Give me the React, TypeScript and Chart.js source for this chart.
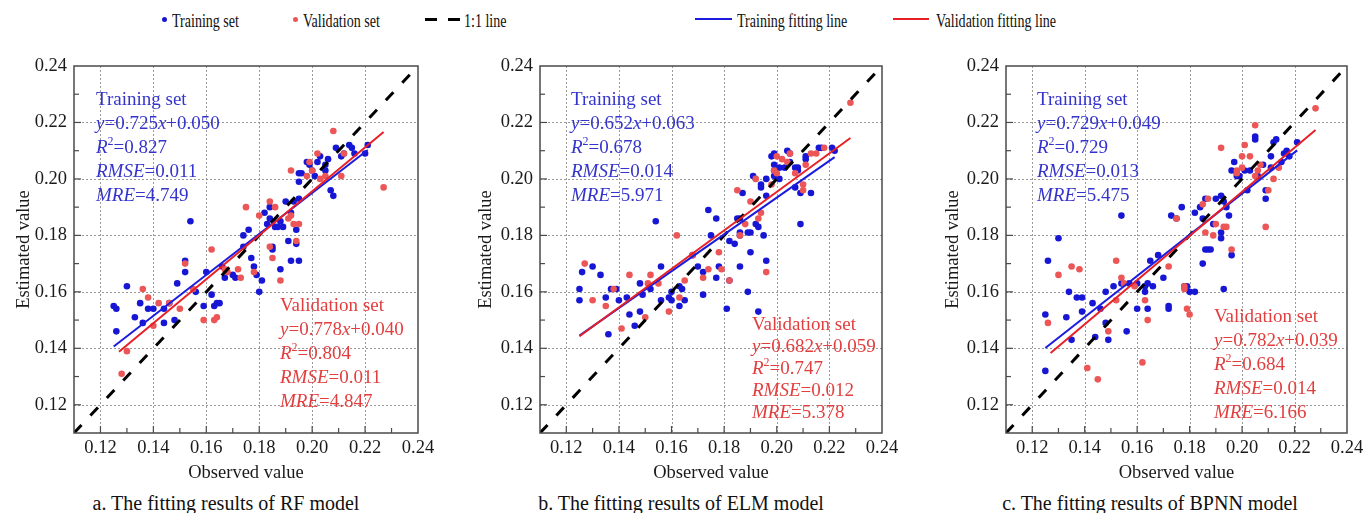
import React, { useEffect, useRef } from "react";
import { Chart, registerables } from "chart.js";

Chart.register(...registerables);

const FONT = "'Liberation Serif', 'Times New Roman', Times, serif";

// ---- axes ----
const axisMin = 0.11;
const axisMax = 0.24;
const majorTicks = [0.12, 0.14, 0.16, 0.18, 0.2, 0.22, 0.24];
const minorTicks = [0.13, 0.15, 0.17, 0.19, 0.21, 0.23];
const identityLine = [0.11, 0.24];

// ---- RF model ----
const rfTrainObs = [0.126, 0.125, 0.126, 0.130, 0.133, 0.135, 0.136, 0.138, 0.140, 0.144, 0.144, 0.146, 0.148, 0.149, 0.152, 0.152, 0.154, 0.156, 0.160, 0.159, 0.162, 0.163, 0.164, 0.165, 0.166, 0.167, 0.170, 0.171, 0.174, 0.174, 0.176, 0.177, 0.178, 0.179, 0.180, 0.181, 0.182, 0.183, 0.184, 0.184, 0.185, 0.185, 0.186, 0.187, 0.188, 0.188, 0.189, 0.190, 0.191, 0.192, 0.192, 0.193, 0.194, 0.194, 0.195, 0.195, 0.195, 0.195, 0.196, 0.198, 0.199, 0.200, 0.201, 0.202, 0.203, 0.205, 0.205, 0.206, 0.207, 0.208, 0.209, 0.211, 0.212, 0.214, 0.215, 0.216, 0.220, 0.221];
const rfTrainEst = [0.146, 0.155, 0.154, 0.162, 0.151, 0.156, 0.149, 0.154, 0.154, 0.149, 0.154, 0.156, 0.150, 0.163, 0.171, 0.167, 0.185, 0.160, 0.167, 0.155, 0.159, 0.155, 0.156, 0.156, 0.169, 0.165, 0.166, 0.165, 0.180, 0.176, 0.182, 0.172, 0.169, 0.166, 0.160, 0.164, 0.188, 0.184, 0.186, 0.190, 0.176, 0.175, 0.183, 0.183, 0.168, 0.185, 0.183, 0.192, 0.178, 0.188, 0.171, 0.192, 0.182, 0.177, 0.171, 0.193, 0.199, 0.202, 0.202, 0.206, 0.205, 0.203, 0.201, 0.206, 0.208, 0.205, 0.203, 0.207, 0.196, 0.194, 0.211, 0.208, 0.209, 0.212, 0.211, 0.209, 0.209, 0.212];
const rfValObs = [0.128, 0.130, 0.136, 0.138, 0.140, 0.142, 0.146, 0.150, 0.152, 0.155, 0.159, 0.162, 0.163, 0.164, 0.167, 0.168, 0.172, 0.173, 0.175, 0.178, 0.180, 0.184, 0.184, 0.185, 0.186, 0.188, 0.191, 0.192, 0.192, 0.193, 0.194, 0.195, 0.198, 0.199, 0.200, 0.202, 0.203, 0.205, 0.208, 0.211, 0.212, 0.227];
const rfValEst = [0.131, 0.139, 0.161, 0.158, 0.148, 0.156, 0.156, 0.154, 0.170, 0.161, 0.150, 0.175, 0.150, 0.151, 0.168, 0.167, 0.168, 0.165, 0.190, 0.167, 0.187, 0.192, 0.176, 0.172, 0.190, 0.164, 0.186, 0.203, 0.187, 0.184, 0.178, 0.184, 0.201, 0.206, 0.203, 0.209, 0.200, 0.201, 0.217, 0.201, 0.209, 0.197];
const rfTrainFit = [0.725, 0.05];
const rfValFit = [0.778, 0.04];
const rfTrainRange = [0.125, 0.221];
const rfValRange = [0.127, 0.227];
const rfTrainMetrics = [0.827, 0.011, 4.749];
const rfValMetrics = [0.804, 0.011, 4.847];

// ---- ELM model ----
const elmTrainObs = [0.125, 0.125, 0.126, 0.130, 0.133, 0.135, 0.136, 0.137, 0.139, 0.140, 0.143, 0.144, 0.146, 0.148, 0.148, 0.149, 0.152, 0.154, 0.156, 0.156, 0.159, 0.160, 0.160, 0.163, 0.164, 0.163, 0.165, 0.168, 0.170, 0.172, 0.172, 0.174, 0.175, 0.177, 0.177, 0.178, 0.181, 0.182, 0.182, 0.184, 0.185, 0.186, 0.186, 0.186, 0.186, 0.187, 0.189, 0.189, 0.190, 0.190, 0.191, 0.192, 0.193, 0.193, 0.194, 0.194, 0.195, 0.196, 0.196, 0.196, 0.198, 0.199, 0.199, 0.199, 0.199, 0.201, 0.201, 0.203, 0.204, 0.205, 0.205, 0.207, 0.207, 0.208, 0.208, 0.209, 0.209, 0.211, 0.211, 0.213, 0.216, 0.217, 0.221, 0.222];
const elmTrainEst = [0.161, 0.157, 0.167, 0.169, 0.166, 0.158, 0.145, 0.161, 0.161, 0.157, 0.158, 0.152, 0.148, 0.163, 0.153, 0.159, 0.161, 0.185, 0.169, 0.157, 0.158, 0.157, 0.160, 0.162, 0.161, 0.155, 0.157, 0.173, 0.169, 0.167, 0.159, 0.189, 0.180, 0.186, 0.165, 0.169, 0.154, 0.178, 0.164, 0.177, 0.186, 0.186, 0.169, 0.181, 0.180, 0.195, 0.160, 0.181, 0.181, 0.174, 0.201, 0.184, 0.183, 0.153, 0.198, 0.197, 0.180, 0.200, 0.171, 0.194, 0.208, 0.209, 0.205, 0.203, 0.201, 0.204, 0.200, 0.204, 0.210, 0.209, 0.206, 0.197, 0.204, 0.203, 0.204, 0.195, 0.184, 0.207, 0.208, 0.195, 0.211, 0.211, 0.211, 0.210];
const elmValObs = [0.127, 0.130, 0.135, 0.138, 0.141, 0.144, 0.150, 0.151, 0.152, 0.155, 0.159, 0.162, 0.163, 0.165, 0.168, 0.172, 0.174, 0.178, 0.179, 0.182, 0.185, 0.186, 0.188, 0.190, 0.192, 0.193, 0.194, 0.196, 0.198, 0.199, 0.200, 0.200, 0.202, 0.204, 0.205, 0.207, 0.210, 0.210, 0.211, 0.213, 0.215, 0.218, 0.228];
const elmValEst = [0.170, 0.157, 0.155, 0.161, 0.147, 0.166, 0.151, 0.163, 0.166, 0.163, 0.153, 0.180, 0.158, 0.164, 0.173, 0.165, 0.168, 0.174, 0.168, 0.164, 0.196, 0.180, 0.184, 0.192, 0.200, 0.186, 0.188, 0.167, 0.198, 0.203, 0.202, 0.208, 0.207, 0.206, 0.209, 0.202, 0.196, 0.198, 0.205, 0.209, 0.209, 0.211, 0.227];
const elmTrainFit = [0.652, 0.063];
const elmValFit = [0.682, 0.059];
const elmTrainRange = [0.125, 0.222];
const elmValRange = [0.125, 0.228];
const elmTrainMetrics = [0.678, 0.014, 5.971];
const elmValMetrics = [0.747, 0.012, 5.378];

// ---- BPNN model ----
const bpTrainObs = [0.125, 0.125, 0.126, 0.130, 0.133, 0.134, 0.135, 0.137, 0.139, 0.139, 0.143, 0.144, 0.146, 0.148, 0.148, 0.149, 0.151, 0.154, 0.154, 0.156, 0.157, 0.160, 0.160, 0.163, 0.164, 0.163, 0.164, 0.166, 0.168, 0.165, 0.170, 0.172, 0.172, 0.173, 0.175, 0.177, 0.178, 0.179, 0.180, 0.182, 0.182, 0.184, 0.185, 0.185, 0.186, 0.186, 0.187, 0.188, 0.189, 0.190, 0.192, 0.192, 0.192, 0.193, 0.193, 0.194, 0.195, 0.196, 0.196, 0.197, 0.198, 0.198, 0.199, 0.201, 0.202, 0.203, 0.205, 0.205, 0.206, 0.208, 0.209, 0.209, 0.211, 0.211, 0.212, 0.213, 0.215, 0.216, 0.217, 0.218, 0.221];
const bpTrainEst = [0.152, 0.132, 0.171, 0.179, 0.151, 0.160, 0.143, 0.158, 0.158, 0.153, 0.156, 0.144, 0.154, 0.149, 0.160, 0.143, 0.162, 0.187, 0.163, 0.146, 0.163, 0.154, 0.163, 0.160, 0.154, 0.162, 0.163, 0.162, 0.173, 0.171, 0.165, 0.155, 0.154, 0.187, 0.186, 0.190, 0.162, 0.162, 0.160, 0.160, 0.188, 0.190, 0.170, 0.186, 0.175, 0.193, 0.175, 0.175, 0.184, 0.193, 0.181, 0.179, 0.194, 0.161, 0.192, 0.190, 0.187, 0.173, 0.203, 0.206, 0.202, 0.201, 0.201, 0.203, 0.196, 0.203, 0.214, 0.215, 0.201, 0.205, 0.193, 0.196, 0.208, 0.204, 0.213, 0.214, 0.206, 0.209, 0.210, 0.208, 0.213];
const bpValObs = [0.126, 0.130, 0.135, 0.138, 0.141, 0.145, 0.149, 0.152, 0.152, 0.154, 0.155, 0.159, 0.162, 0.163, 0.164, 0.172, 0.175, 0.178, 0.178, 0.179, 0.180, 0.185, 0.186, 0.187, 0.189, 0.190, 0.192, 0.193, 0.194, 0.196, 0.198, 0.198, 0.200, 0.200, 0.201, 0.203, 0.205, 0.205, 0.206, 0.207, 0.209, 0.210, 0.212, 0.214, 0.228];
const bpValEst = [0.149, 0.166, 0.169, 0.168, 0.133, 0.129, 0.146, 0.171, 0.157, 0.165, 0.163, 0.162, 0.135, 0.157, 0.150, 0.169, 0.186, 0.161, 0.162, 0.154, 0.152, 0.191, 0.181, 0.193, 0.180, 0.184, 0.211, 0.183, 0.183, 0.175, 0.203, 0.202, 0.204, 0.208, 0.212, 0.208, 0.219, 0.201, 0.203, 0.205, 0.183, 0.196, 0.200, 0.204, 0.225];
const bpTrainFit = [0.729, 0.049];
const bpValFit = [0.782, 0.039];
const bpTrainRange = [0.125, 0.221];
const bpValRange = [0.127, 0.228];
const bpTrainMetrics = [0.729, 0.013, 5.475];
const bpValMetrics = [0.684, 0.014, 6.166];

// ---- colours ----
const BLUE_PT = "rgb(22,22,212)";
const RED_PT = "rgb(236,86,86)";
const BLUE_LINE = "rgb(28,28,222)";
const RED_LINE = "rgb(232,32,38)";
const BLUE_TXT = "rgb(52,52,205)";
const RED_TXT = "rgb(226,62,62)";
const AXIS_TXT = "#1a1a1a";

type TextPos = { dx: number; dy: number; gap: number };
type PanelCfg = {
  trainObs: number[]; trainEst: number[]; valObs: number[]; valEst: number[];
  trainFit: number[]; valFit: number[]; trainRange: number[]; valRange: number[];
  trainMetrics: number[]; valMetrics: number[];
  plotLeft: number; plotWidth: number; yTitlePad: number;
  trainPos: TextPos; valPos: TextPos;
};

type Run = { t: string; it?: boolean; sup?: boolean };

function blockLines(title: string, fit: number[], m: number[]): Run[][] {
  return [
    [{ t: title }],
    [{ t: "y", it: true }, { t: "=" + fit[0].toFixed(3) }, { t: "x", it: true }, { t: "+" + fit[1].toFixed(3) }],
    [{ t: "R", it: true }, { t: "2", sup: true }, { t: "=" + m[0].toFixed(3) }],
    [{ t: "RMSE", it: true }, { t: "=" + m[1].toFixed(3) }],
    [{ t: "MRE", it: true }, { t: "=" + m[2].toFixed(3) }],
  ];
}

function drawBlock(ctx: CanvasRenderingContext2D, x0: number, y0: number, gap: number, lines: Run[][], color: string) {
  ctx.fillStyle = color;
  ctx.textBaseline = "middle";
  ctx.textAlign = "left";
  lines.forEach((runs, li) => {
    let cx = x0;
    const cy = y0 + li * gap;
    runs.forEach((r) => {
      const size = r.sup ? 12 : 19;
      ctx.font = `${r.it ? "italic " : ""}${size}px ${FONT}`;
      ctx.fillText(r.t, cx, r.sup ? cy - 6 : cy);
      cx += ctx.measureText(r.t).width;
    });
  });
}

const framePlugin = {
  id: "frame",
  beforeDatasetsDraw(chart: any) {
    const { ctx, chartArea: a, scales } = chart;
    const xs = scales.x, ys = scales.y;
    ctx.save();
    ctx.strokeStyle = "rgba(120,120,120,0.75)";
    ctx.lineWidth = 1;
    ctx.setLineDash([2, 2]);
    majorTicks.filter((v) => v < axisMax).forEach((v) => {
      const px = Math.round(xs.getPixelForValue(v)) + 0.5;
      ctx.beginPath(); ctx.moveTo(px, a.top); ctx.lineTo(px, a.bottom); ctx.stroke();
      const py = Math.round(ys.getPixelForValue(v)) + 0.5;
      ctx.beginPath(); ctx.moveTo(a.left, py); ctx.lineTo(a.right, py); ctx.stroke();
    });
    ctx.restore();
  },
  afterDatasetsDraw(chart: any) {
    const { ctx, chartArea: a, scales } = chart;
    const xs = scales.x, ys = scales.y;
    ctx.save();
    ctx.strokeStyle = "#4a4a4a";
    ctx.lineWidth = 1.5;
    ctx.setLineDash([]);
    ctx.strokeRect(a.left, a.top, a.right - a.left, a.bottom - a.top);
    const tick = (v: number, len: number) => {
      const px = xs.getPixelForValue(v);
      ctx.beginPath(); ctx.moveTo(px, a.bottom); ctx.lineTo(px, a.bottom - len); ctx.stroke();
      const py = ys.getPixelForValue(v);
      ctx.beginPath(); ctx.moveTo(a.left, py); ctx.lineTo(a.left + len, py); ctx.stroke();
    };
    ctx.lineWidth = 1.2;
    minorTicks.forEach((v) => tick(v, 5));
    majorTicks.filter((v) => v < axisMax).forEach((v) => tick(v, 7));
    ctx.restore();
  },
};

const annotPlugin = {
  id: "annot",
  afterDatasetsDraw(chart: any, _args: any, opts: any) {
    const { ctx, chartArea: a } = chart;
    ctx.save();
    const { trainPos, valPos, trainLines, valLines } = opts;
    drawBlock(ctx, a.left + trainPos.dx, a.top + trainPos.dy, trainPos.gap, trainLines, BLUE_TXT);
    drawBlock(ctx, a.left + valPos.dx, a.top + valPos.dy, valPos.gap, valLines, RED_TXT);
    ctx.restore();
  },
};

const CANVAS_TOP = 40;
const CANVAS_H = 450;
const PAD_TOP = 26;
const PAD_RIGHT = 32;
const Y_AXIS_W = 74;
const X_AXIS_H = 57;

function Panel({ cfg }: { cfg: PanelCfg }) {
  const ref = useRef<HTMLCanvasElement>(null);
  const w = Y_AXIS_W + cfg.plotWidth + PAD_RIGHT;
  useEffect(() => {
    const canvas = ref.current;
    if (!canvas) return;
    const pts = (xs: number[], ys: number[]) => xs.map((x, i) => ({ x, y: ys[i] }));
    const fitPts = (fit: number[], range: number[]) => range.map((x) => ({ x, y: fit[0] * x + fit[1] }));
    const tickFont = { family: FONT, size: 18.5 };
    const chart = new Chart(canvas, {
      type: "scatter",
      data: {
        datasets: [
          { label: "Validation fitting line", data: fitPts(cfg.valFit, cfg.valRange), showLine: true, borderColor: RED_LINE, borderWidth: 2, pointRadius: 0, fill: false, order: 0 } as any,
          { label: "Training fitting line", data: fitPts(cfg.trainFit, cfg.trainRange), showLine: true, borderColor: BLUE_LINE, borderWidth: 2, pointRadius: 0, fill: false, order: 1 } as any,
          { label: "1:1 line", data: identityLine.map((v) => ({ x: v, y: v })), showLine: true, borderColor: "#000", borderWidth: 3, borderDash: [11, 13], borderCapStyle: "butt", pointRadius: 0, fill: false, order: 2 } as any,
          { label: "Validation set", data: pts(cfg.valObs, cfg.valEst), pointRadius: 3.3, pointBackgroundColor: RED_PT, pointBorderColor: RED_PT, pointBorderWidth: 0, order: 3 } as any,
          { label: "Training set", data: pts(cfg.trainObs, cfg.trainEst), pointRadius: 3.3, pointBackgroundColor: BLUE_PT, pointBorderColor: BLUE_PT, pointBorderWidth: 0, order: 4 } as any,
        ],
      },
      options: {
        responsive: false,
        animation: false,
        events: [],
        layout: { padding: { top: PAD_TOP, right: PAD_RIGHT, left: 0, bottom: 0 } },
        plugins: {
          legend: { display: false },
          tooltip: { enabled: false },
          annot: {
            trainPos: cfg.trainPos,
            valPos: cfg.valPos,
            trainLines: blockLines("Training set", cfg.trainFit, cfg.trainMetrics),
            valLines: blockLines("Validation set", cfg.valFit, cfg.valMetrics),
          },
        } as any,
        scales: {
          x: {
            type: "linear",
            min: axisMin,
            max: axisMax,
            grid: { display: false, drawTicks: false },
            border: { display: false },
            afterBuildTicks: (s: any) => { s.ticks = majorTicks.map((v) => ({ value: v })); },
            afterFit: (s: any) => { s.height = X_AXIS_H; },
            ticks: { autoSkip: false, maxRotation: 0, padding: 4, color: AXIS_TXT, font: tickFont, callback: (v: any) => Number(v).toFixed(2) },
            title: { display: true, text: "Observed value", color: AXIS_TXT, font: tickFont, padding: { top: 0, bottom: 6 } },
          },
          y: {
            type: "linear",
            min: axisMin,
            max: axisMax,
            grid: { display: false, drawTicks: false },
            border: { display: false },
            afterBuildTicks: (s: any) => { s.ticks = majorTicks.map((v) => ({ value: v })); },
            afterFit: (s: any) => { s.width = Y_AXIS_W; },
            ticks: { autoSkip: false, padding: 7, color: AXIS_TXT, font: tickFont, callback: (v: any) => Number(v).toFixed(2) },
            title: { display: true, text: "Estimated value", color: AXIS_TXT, font: tickFont, padding: { top: cfg.yTitlePad, bottom: 0 } },
          },
        } as any,
      },
      plugins: [framePlugin, annotPlugin],
    });
    return () => chart.destroy();
  }, [cfg]);
  return (
    <canvas
      ref={ref}
      width={w}
      height={CANVAS_H}
      style={{ position: "absolute", left: cfg.plotLeft - Y_AXIS_W, top: CANVAS_TOP, width: w, height: CANVAS_H }}
    />
  );
}

const panels: PanelCfg[] = [
  {
    trainObs: rfTrainObs, trainEst: rfTrainEst, valObs: rfValObs, valEst: rfValEst,
    trainFit: rfTrainFit, valFit: rfValFit, trainRange: rfTrainRange, valRange: rfValRange,
    trainMetrics: rfTrainMetrics, valMetrics: rfValMetrics,
    plotLeft: 74, plotWidth: 344, yTitlePad: 13,
    trainPos: { dx: 22, dy: 34, gap: 24 }, valPos: { dx: 206, dy: 240, gap: 24 },
  },
  {
    trainObs: elmTrainObs, trainEst: elmTrainEst, valObs: elmValObs, valEst: elmValEst,
    trainFit: elmTrainFit, valFit: elmValFit, trainRange: elmTrainRange, valRange: elmValRange,
    trainMetrics: elmTrainMetrics, valMetrics: elmValMetrics,
    plotLeft: 540, plotWidth: 342, yTitlePad: 9,
    trainPos: { dx: 31, dy: 34, gap: 24 }, valPos: { dx: 212, dy: 259, gap: 22 },
  },
  {
    trainObs: bpTrainObs, trainEst: bpTrainEst, valObs: bpValObs, valEst: bpValEst,
    trainFit: bpTrainFit, valFit: bpValFit, trainRange: bpTrainRange, valRange: bpValRange,
    trainMetrics: bpTrainMetrics, valMetrics: bpValMetrics,
    plotLeft: 1006, plotWidth: 341, yTitlePad: 10,
    trainPos: { dx: 31, dy: 34, gap: 24 }, valPos: { dx: 208, dy: 251, gap: 24 },
  },
];

const captions = [
  "a. The fitting results of RF model",
  "b. The fitting results of ELM model",
  "c. The fitting results of BPNN model",
];
const captionCenters = [226, 681, 1150];

const legendText: React.CSSProperties = {
  position: "absolute",
  top: 12,
  font: `18px ${FONT}`,
  lineHeight: "18px",
  color: "#111",
  whiteSpace: "nowrap",
  transform: "scaleX(0.78)",
  transformOrigin: "left center",
};

export default function App() {
  return (
    <div style={{ position: "fixed", left: 0, top: 0, width: 1366, height: 513, background: "#fff", overflow: "hidden" }}>
      {/* legend */}
      <div style={{ position: "absolute", left: 162, top: 17, width: 5, height: 5, borderRadius: "50%", background: BLUE_PT }} />
      <span style={{ ...legendText, left: 172 }}>Training set</span>
      <div style={{ position: "absolute", left: 293, top: 17, width: 5, height: 5, borderRadius: "50%", background: RED_PT }} />
      <span style={{ ...legendText, left: 303 }}>Validation set</span>
      <div style={{ position: "absolute", left: 425, top: 18, width: 12, height: 3, background: "#000" }} />
      <div style={{ position: "absolute", left: 448, top: 18, width: 12, height: 3, background: "#000" }} />
      <span style={{ ...legendText, left: 464 }}>1:1 line</span>
      <div style={{ position: "absolute", left: 695, top: 18, width: 37, height: 2, background: BLUE_LINE }} />
      <span style={{ ...legendText, left: 737 }}>Training fitting line</span>
      <div style={{ position: "absolute", left: 893, top: 18, width: 36, height: 2, background: RED_LINE }} />
      <span style={{ ...legendText, left: 936 }}>Validation fitting line</span>

      {panels.map((p, i) => (
        <Panel key={i} cfg={p} />
      ))}

      {captions.map((c, i) => (
        <div
          key={i}
          style={{
            position: "absolute",
            left: captionCenters[i] - 220,
            width: 440,
            top: 493,
            textAlign: "center",
            font: `20px ${FONT}`,
            lineHeight: "20px",
            color: "#111",
            whiteSpace: "nowrap",
          }}
        >
          {c}
        </div>
      ))}
    </div>
  );
}
